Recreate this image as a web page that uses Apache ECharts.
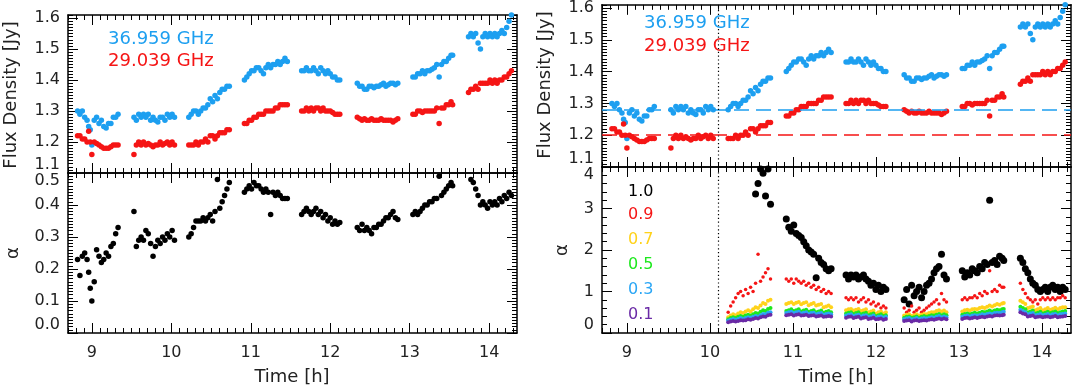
<!DOCTYPE html>
<html><head><meta charset="utf-8">
<script src="https://cdn.jsdelivr.net/npm/echarts@6/dist/echarts.min.js"></script>
<style>html,body{margin:0;padding:0;background:#fff}#c{width:1073px;height:392px}</style>
</head><body><div id="c"></div>
<script>
// ---------------- DATA ----------------
// observation times [h] (8 scans)
const time = [
 8.82,8.85,8.88,8.91,8.94,8.96,8.98,9.00,9.03,9.06,9.09,9.12,9.15,9.18,9.21,9.24,9.27,9.30,9.33,
 9.53,9.56,9.59,9.62,9.65,9.68,9.71,9.74,9.77,9.80,9.83,9.86,9.89,9.92,9.95,9.98,10.01,10.04,
 10.22,10.25,10.28,10.31,10.34,10.37,10.40,10.43,10.46,10.49,10.52,10.55,10.58,10.61,10.64,10.67,10.70,10.73,
 10.92,10.95,10.98,11.01,11.04,11.07,11.10,11.13,11.16,11.19,11.22,11.25,11.28,11.31,11.34,11.37,11.40,11.43,11.46,
 11.64,11.67,11.70,11.73,11.76,11.79,11.82,11.85,11.88,11.91,11.94,11.97,12.00,12.03,12.06,12.09,12.12,
 12.34,12.37,12.40,12.43,12.46,12.49,12.52,12.55,12.58,12.61,12.64,12.67,12.70,12.73,12.76,12.79,12.82,12.85,
 13.04,13.07,13.10,13.13,13.16,13.19,13.22,13.25,13.28,13.31,13.34,13.37,13.40,13.43,13.46,13.49,13.52,13.54,
 13.74,13.77,13.80,13.83,13.86,13.89,13.92,13.95,13.98,14.01,14.04,14.07,14.10,14.13,14.16,14.19,14.22,14.25,14.28
];
// flux density 36.959 GHz [Jy]
const flux37 = [
 1.30,1.29,1.30,1.28,1.27,1.25,1.24,1.19,1.27,1.28,1.26,1.27,1.25,1.245,1.26,1.26,1.28,1.28,1.29,
 1.28,1.27,1.29,1.28,1.29,1.28,1.29,1.27,1.28,1.27,1.265,1.28,1.28,1.27,1.29,1.28,1.29,1.28,
 1.28,1.29,1.30,1.30,1.29,1.30,1.31,1.31,1.32,1.34,1.33,1.35,1.34,1.36,1.37,1.37,1.38,1.38,
 1.40,1.41,1.42,1.43,1.43,1.44,1.44,1.43,1.42,1.44,1.45,1.44,1.45,1.45,1.46,1.45,1.46,1.47,1.46,
 1.43,1.43,1.44,1.43,1.43,1.44,1.43,1.42,1.44,1.43,1.42,1.43,1.42,1.41,1.41,1.40,1.40,
 1.39,1.38,1.38,1.37,1.37,1.38,1.38,1.375,1.38,1.38,1.385,1.39,1.38,1.385,1.39,1.39,1.385,1.39,
 1.41,1.41,1.42,1.42,1.43,1.42,1.43,1.43,1.435,1.44,1.45,1.41,1.45,1.46,1.46,1.47,1.48,1.48,
 1.54,1.55,1.54,1.55,1.52,1.50,1.54,1.55,1.54,1.55,1.54,1.55,1.54,1.55,1.56,1.55,1.57,1.59,1.61
];
// flux density 29.039 GHz [Jy]
const flux29 = [
 1.22,1.22,1.21,1.21,1.20,1.235,1.20,1.16,1.20,1.195,1.19,1.185,1.18,1.18,1.18,1.185,1.19,1.19,1.19,
 1.16,1.19,1.20,1.19,1.20,1.19,1.195,1.19,1.185,1.19,1.19,1.20,1.19,1.195,1.20,1.19,1.20,1.19,
 1.19,1.19,1.19,1.20,1.19,1.20,1.20,1.21,1.20,1.22,1.22,1.21,1.22,1.23,1.23,1.23,1.24,1.24,
 1.26,1.26,1.27,1.27,1.28,1.28,1.29,1.29,1.29,1.30,1.30,1.30,1.30,1.31,1.31,1.32,1.32,1.32,1.32,
 1.30,1.30,1.31,1.30,1.31,1.30,1.31,1.31,1.30,1.31,1.30,1.30,1.30,1.295,1.29,1.29,1.29,
 1.28,1.275,1.27,1.275,1.27,1.27,1.275,1.27,1.27,1.27,1.275,1.27,1.27,1.27,1.27,1.265,1.27,1.275,
 1.29,1.29,1.30,1.30,1.295,1.30,1.30,1.30,1.30,1.30,1.31,1.26,1.31,1.31,1.32,1.32,1.33,1.32,
 1.36,1.37,1.37,1.38,1.37,1.39,1.39,1.39,1.39,1.40,1.39,1.40,1.39,1.40,1.40,1.41,1.41,1.42,1.43
];
// spectral index (left panel)
const alphaLeft = [
 0.23,0.18,0.24,0.25,0.23,0.19,0.14,0.10,0.16,0.26,0.24,0.22,0.23,0.25,0.24,0.27,0.28,0.31,0.33,
 0.38,0.27,0.29,0.30,0.29,0.32,0.31,0.28,0.24,0.27,0.29,0.28,0.30,0.29,0.31,0.30,0.32,0.29,
 0.30,0.31,0.33,0.35,0.35,0.35,0.36,0.35,0.36,0.37,0.35,0.38,0.48,0.39,0.41,0.43,0.45,0.47,
 0.44,0.45,0.46,0.45,0.47,0.46,0.46,0.45,0.44,0.45,0.44,0.37,0.44,0.43,0.44,0.43,0.42,0.42,0.42,
 0.37,0.38,0.39,0.38,0.37,0.38,0.39,0.37,0.38,0.36,0.37,0.35,0.36,0.34,0.35,0.34,0.345,
 0.33,0.32,0.34,0.32,0.33,0.32,0.31,0.33,0.33,0.34,0.34,0.35,0.36,0.36,0.37,0.38,0.36,0.355,
 0.37,0.38,0.37,0.38,0.39,0.40,0.40,0.41,0.41,0.42,0.42,0.49,0.43,0.44,0.45,0.46,0.47,0.46,
 0.51,0.48,0.47,0.45,0.43,0.40,0.41,0.40,0.39,0.41,0.40,0.41,0.40,0.42,0.41,0.43,0.42,0.44,0.43
];
// right panel: spectral index after removing fractions of the quiescent level (scans 3-8)
const timeR = time.slice(37);
const alpha10 = [
 null,null,null,null,null,null,null,null,null,null,null,3.35,3.6,3.95,3.85,3.3,3.95,3.1,
 2.75,2.55,2.45,2.6,2.4,2.35,2.3,2.2,2.1,2.0,1.95,1.9,1.33,1.8,1.7,1.65,1.55,1.5,1.55,
 1.4,1.3,1.4,1.35,1.4,1.3,1.35,1.4,1.3,1.25,1.15,1.2,1.05,1.15,1.0,1.1,1.05,
 0.8,1.05,0.7,1.15,0.9,1.0,1.1,0.85,1.0,1.15,1.2,1.3,1.45,1.55,1.6,1.9,1.4,1.3,
 1.5,1.35,1.45,1.4,1.55,1.5,1.45,1.6,1.55,1.7,1.65,3.2,1.7,1.75,1.65,1.85,1.8,1.75,
 1.8,1.7,1.55,1.45,1.3,1.2,1.15,1.05,1.0,1.05,1.1,1.0,1.1,1.15,1.05,1.1,1.0,1.1,1.05
];
const alpha09 = [
 0.5,0.65,0.75,0.85,0.95,1.0,0.9,1.05,0.95,1.1,1.0,1.2,1.9,1.25,1.35,1.45,1.55,1.3,
 1.3,1.25,1.3,1.2,1.3,1.25,1.2,1.25,1.15,1.2,1.1,1.15,1.05,1.1,1.0,1.05,0.95,1.0,0.95,
 0.85,0.8,0.85,0.8,0.85,0.75,0.8,0.85,0.75,0.8,0.7,0.75,0.65,0.7,0.6,0.65,0.6,
 0.6,0.5,0.55,0.65,0.5,0.55,0.6,0.5,0.55,0.6,0.65,0.7,0.75,0.8,0.7,0.95,0.8,0.75,
 0.8,0.85,0.8,0.85,0.85,0.9,0.85,0.95,0.9,1.0,0.95,1.5,1.0,1.05,1.0,1.15,1.1,1.1,
 1.2,1.05,0.95,0.85,0.8,0.75,0.8,0.7,0.8,0.85,0.8,0.85,0.8,0.85,0.8,0.85,0.85,0.9,0.85
];
const alpha07 = [
 0.38,0.42,0.45,0.43,0.47,0.5,0.48,0.52,0.55,0.52,0.57,0.62,0.6,0.66,0.72,0.7,0.78,0.8,
 0.7,0.72,0.74,0.7,0.73,0.75,0.69,0.72,0.74,0.67,0.7,0.72,0.66,0.68,0.7,0.62,0.64,0.66,0.62,
 0.55,0.57,0.58,0.54,0.56,0.58,0.53,0.55,0.57,0.5,0.52,0.54,0.47,0.5,0.52,0.47,0.5,
 0.42,0.44,0.45,0.41,0.43,0.45,0.42,0.44,0.46,0.45,0.48,0.5,0.5,0.53,0.55,0.52,0.54,0.5,
 0.52,0.55,0.56,0.54,0.57,0.58,0.57,0.6,0.62,0.6,0.63,0.66,0.64,0.67,0.7,0.68,0.71,0.72,
 0.78,0.74,0.7,0.6,0.62,0.64,0.55,0.57,0.6,0.55,0.57,0.6,0.56,0.58,0.61,0.57,0.6,0.62,0.62
];
const alpha05 = [
 0.33,0.36,0.38,0.36,0.39,0.41,0.39,0.42,0.44,0.42,0.45,0.48,0.47,0.51,0.55,0.53,0.58,0.6,
 0.53,0.55,0.57,0.53,0.55,0.57,0.52,0.54,0.56,0.51,0.53,0.55,0.5,0.52,0.54,0.49,0.51,0.53,0.5,
 0.47,0.49,0.5,0.46,0.48,0.5,0.45,0.47,0.49,0.43,0.45,0.47,0.41,0.43,0.45,0.41,0.43,
 0.37,0.39,0.4,0.37,0.38,0.4,0.37,0.39,0.41,0.39,0.41,0.43,0.42,0.44,0.46,0.43,0.45,0.43,
 0.44,0.46,0.47,0.45,0.47,0.49,0.47,0.49,0.51,0.5,0.52,0.54,0.52,0.54,0.56,0.55,0.57,0.58,
 0.63,0.6,0.57,0.5,0.52,0.54,0.47,0.49,0.51,0.47,0.49,0.51,0.48,0.5,0.52,0.48,0.5,0.52,0.53
];
const alpha03 = [
 0.3,0.32,0.34,0.32,0.34,0.36,0.34,0.36,0.38,0.37,0.39,0.41,0.4,0.43,0.46,0.45,0.49,0.5,
 0.48,0.5,0.51,0.48,0.5,0.51,0.47,0.49,0.5,0.46,0.48,0.49,0.45,0.47,0.48,0.44,0.46,0.47,0.45,
 0.42,0.44,0.45,0.41,0.43,0.44,0.4,0.42,0.43,0.39,0.4,0.42,0.37,0.39,0.4,0.37,0.39,
 0.33,0.35,0.36,0.33,0.34,0.36,0.33,0.35,0.36,0.35,0.36,0.38,0.37,0.39,0.41,0.38,0.4,0.38,
 0.39,0.41,0.42,0.4,0.42,0.43,0.42,0.43,0.45,0.44,0.46,0.47,0.46,0.48,0.49,0.48,0.5,0.51,
 0.56,0.53,0.5,0.45,0.47,0.48,0.43,0.44,0.46,0.43,0.44,0.46,0.43,0.45,0.46,0.43,0.45,0.46,0.47
];
const alpha01 = [
 0.26,0.28,0.29,0.28,0.29,0.31,0.3,0.31,0.33,0.32,0.34,0.36,0.35,0.38,0.4,0.39,0.43,0.44,
 0.43,0.44,0.45,0.42,0.44,0.45,0.42,0.43,0.44,0.41,0.42,0.43,0.4,0.41,0.42,0.39,0.4,0.41,0.4,
 0.37,0.39,0.4,0.36,0.38,0.39,0.35,0.37,0.38,0.34,0.35,0.37,0.33,0.34,0.35,0.32,0.34,
 0.29,0.3,0.31,0.28,0.3,0.31,0.29,0.3,0.31,0.3,0.32,0.33,0.32,0.34,0.35,0.33,0.35,0.33,
 0.34,0.36,0.37,0.35,0.36,0.38,0.36,0.38,0.39,0.38,0.4,0.41,0.4,0.42,0.43,0.42,0.43,0.44,
 0.5,0.47,0.45,0.4,0.41,0.42,0.38,0.39,0.4,0.38,0.39,0.4,0.38,0.39,0.41,0.38,0.39,0.4,0.41
];
const freqLabels = ['36.959 GHz', '29.039 GHz'];
const fracLabels = ['1.0', '0.9', '0.7', '0.5', '0.3', '0.1'];
const xTicks = [9, 10, 11, 12, 13, 14];
const fluxTicks = [1.1, 1.2, 1.3, 1.4, 1.5, 1.6];
const alphaTicksL = [0, 0.1, 0.2, 0.3, 0.4, 0.5];
const alphaTicksR = [0, 1, 2, 3, 4];
const quiescent37 = 1.28;
const quiescent29 = 1.195;
const dividerTime = 10.1;

// ---------------- STYLE / LAYOUT ----------------
const FONT = 'DejaVu Sans';
const BLUE = '#1d9ff0', RED = '#f51515', YEL = '#ffd21a', GRN = '#1ee81e', LBLUE = '#2aa6f5', PUR = '#6a2aa6';
const fracColors = ['#000000', RED, YEL, GRN, LBLUE, PUR];

// minor tick positions (axis decoration only)
function steps(from, to, div) { const a = []; for (let k = from; k <= to; k++) a.push(k / div); return a; }
const xMinor = steps(87, 143, 10);
const fluxMinor = steps(110, 161, 100);
const alphaMinorL = steps(0, 50, 100);
const alphaMinorR = steps(0, 20, 5);

const grids = [
  {left: 68, top: 15, width: 449, height: 158},
  {left: 68, top: 173, width: 449, height: 160},
  {left: 602, top: 2, width: 469, height: 165},
  {left: 602, top: 167, width: 469, height: 166}
];

const lineSt = {color: '#000', width: 1.5};
const tickSt = {color: '#000', width: 1};
function xAxesFor(g, showLabels) {
  const major = pos => ({type: 'value', gridIndex: g, min: 8.7, max: 14.35, position: pos,
    splitLine: {show: false},
    axisLine: {show: true, onZero: false, lineStyle: lineSt},
    axisTick: {show: true, inside: true, length: 10, customValues: xTicks, lineStyle: tickSt},
    axisLabel: {show: showLabels && pos === 'bottom', customValues: xTicks, margin: 12, color: '#222', fontSize: 16, fontFamily: FONT}
  });
  const minor = pos => ({type: 'value', gridIndex: g, min: 8.7, max: 14.35, position: pos,
    splitLine: {show: false},
    axisLine: {show: false, onZero: false},
    axisTick: {show: true, inside: true, length: 5, customValues: xMinor, lineStyle: tickSt},
    axisLabel: {show: false, customValues: xMinor}
  });
  return [major('bottom'), minor('bottom'), major('top'), minor('top')];
}
function yAxesFor(g, min, max, ticks, minorTicks, fmt, alignMax) {
  const major = pos => ({type: 'value', gridIndex: g, min: min, max: max, position: pos,
    splitLine: {show: false},
    axisLine: {show: true, onZero: false, lineStyle: lineSt},
    axisTick: {show: true, inside: true, length: 10, customValues: ticks, lineStyle: tickSt},
    axisLabel: {show: pos === 'left', customValues: ticks, formatter: fmt, margin: 8, color: '#222', fontSize: 16, fontFamily: FONT,
      verticalAlignMinLabel: 'bottom', verticalAlignMaxLabel: alignMax}
  });
  const minor = pos => ({type: 'value', gridIndex: g, min: min, max: max, position: pos,
    splitLine: {show: false},
    axisLine: {show: false, onZero: false},
    axisTick: {show: true, inside: true, length: 5, customValues: minorTicks, lineStyle: tickSt},
    axisLabel: {show: false, customValues: minorTicks}
  });
  return [major('left'), minor('left'), major('right'), minor('right')];
}
const f1 = v => v.toFixed(1);
const f0 = v => String(Math.round(v));

const xAxis = [].concat(xAxesFor(0, false), xAxesFor(1, true), xAxesFor(2, false), xAxesFor(3, true));
const yAxis = [].concat(
  yAxesFor(0, 1.1, 1.61, fluxTicks, fluxMinor, f1, 'middle'),
  yAxesFor(1, 0, 0.5, alphaTicksL, alphaMinorL, f1, 'top'),
  yAxesFor(2, 1.1, 1.61, fluxTicks, fluxMinor, f1, 'middle'),
  yAxesFor(3, 0, 4, alphaTicksR, alphaMinorR, f0, 'top')
);

function pts(ts, vs) {
  const out = [];
  for (let i = 0; i < ts.length; i++) if (vs[i] != null) out.push([ts[i], vs[i]]);
  return out;
}
function sc(g, data, color, size, extra) {
  return Object.assign({type: 'scatter', xAxisIndex: 4 * g, yAxisIndex: 4 * g, data: data,
    symbol: 'circle', symbolSize: size, itemStyle: {color: color, opacity: 1}}, extra || {});
}
const dotted = {symbol: 'none', label: {show: false},
  lineStyle: {color: '#000', type: [1.2, 2.6], width: 1.2}, data: [{xAxis: dividerTime}]};

const series = [
  sc(0, pts(time, flux37), BLUE, 5.5),
  sc(0, pts(time, flux29), RED, 5.5),
  sc(1, pts(time, alphaLeft), '#000', 5.5),
  sc(2, pts(time, flux37), BLUE, 5.5, {markLine: {symbol: 'none', label: {show: false},
    data: [
      {yAxis: quiescent37, lineStyle: {color: BLUE, type: [15, 7], width: 1.5}},
      {yAxis: quiescent29, lineStyle: {color: RED, type: [15, 7], width: 1.5}}
    ]}}),
  sc(2, pts(time, flux29), RED, 5.5, {markLine: dotted}),
  sc(3, pts(timeR, alpha10), '#000', 7, {markLine: dotted}),
  sc(3, pts(timeR, alpha09), RED, 3.5),
  sc(3, pts(timeR, alpha07), YEL, 4),
  sc(3, pts(timeR, alpha05), GRN, 4),
  sc(3, pts(timeR, alpha03), LBLUE, 4),
  sc(3, pts(timeR, alpha01), PUR, 4)
];

function txt(x, y, s, color, size) {
  return {type: 'text', x: x, y: y, silent: true, z: 100,
    style: {text: s, fill: color, font: size + 'px "' + FONT + '"', align: 'left', verticalAlign: 'middle'}};
}
function vtxt(x, y, s, size) {
  return {type: 'text', x: x, y: y, rotation: Math.PI / 2, silent: true, z: 100,
    style: {text: s, fill: '#222', font: size + 'px "' + FONT + '"', align: 'center', verticalAlign: 'middle'}};
}
function htxt(x, y, s, size) {
  return {type: 'text', x: x, y: y, silent: true, z: 100,
    style: {text: s, fill: '#222', font: size + 'px "' + FONT + '"', align: 'center', verticalAlign: 'middle'}};
}
const graphic = [
  txt(108, 39, freqLabels[0], BLUE, 18),
  txt(108, 61, freqLabels[1], RED, 18),
  txt(644, 23, freqLabels[0], BLUE, 18),
  txt(644, 46, freqLabels[1], RED, 18),
  vtxt(11, 95, 'Flux Density [Jy]', 18),
  vtxt(545, 85, 'Flux Density [Jy]', 18),
  vtxt(13, 253, 'α', 18),
  vtxt(562, 250, 'α', 18),
  htxt(292, 377, 'Time [h]', 18),
  htxt(836, 377, 'Time [h]', 18)
];
const legendY = [192, 215, 240, 265, 290, 315];
fracLabels.forEach((s, i) => graphic.push(txt(628, legendY[i], s, fracColors[i], 16)));

const chart = echarts.init(document.getElementById('c'));
chart.setOption({
  animation: false,
  grid: grids,
  xAxis: xAxis,
  yAxis: yAxis,
  series: series
});
try {
  const m = chart.getModel();
  ['xAxis', 'yAxis'].forEach(t => {
    for (let i = 0; i < 16; i++) {
      const c = m.getComponent(t, i);
      if (c && c.axis) c.axis.getTicksCoords();
    }
  });
} catch (e) {}
chart.setOption({graphic: graphic});
</script>
</body></html>
